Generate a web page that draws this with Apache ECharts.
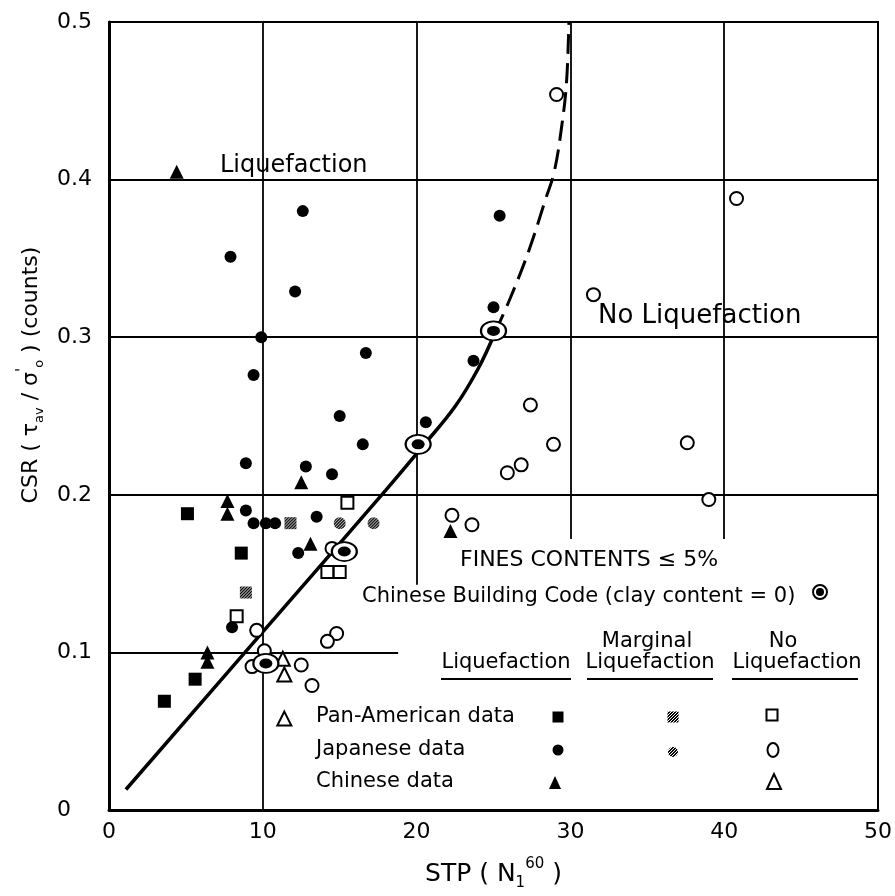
<!DOCTYPE html>
<html lang="en">
<head>
    <meta charset="utf-8">
    <title>CSR vs STP</title>
    <script src="https://cdn.jsdelivr.net/npm/echarts@6/dist/echarts.min.js"></script>
    <style>
        html, body { margin: 0; padding: 0; background: #fff; }
        #chart { width: 895px; height: 896px; }
    </style>
</head>
<body>
<div id="chart"></div>
<script>
    // ---- data: [STP, CSR] ----
    // Pan-American data
    let panLiq = [[5.1, 0.188], [8.6, 0.163], [5.6, 0.083], [3.6, 0.069]];
    let panMarginal = [[11.8, 0.182], [8.9, 0.138]];
    let panNoLiq = [[15.5, 0.195], [14.2, 0.151], [15.0, 0.151], [8.3, 0.123]];

    // Japanese data
    let japLiq = [
        [9.9, 0.300], [16.7, 0.290], [9.4, 0.276], [15.0, 0.250], [16.5, 0.232],
        [8.9, 0.220], [12.8, 0.218], [14.5, 0.213], [8.9, 0.190], [9.4, 0.182],
        [10.2, 0.182], [10.8, 0.182], [13.5, 0.186], [12.3, 0.163], [8.0, 0.116],
        [7.9, 0.351], [12.1, 0.329], [12.6, 0.380], [25.4, 0.377], [25.0, 0.319],
        [23.7, 0.285], [20.6, 0.246]
    ];
    let japMarginal = [[15.0, 0.182], [17.2, 0.182]];
    let japNoLiq = [
        [29.1, 0.454], [40.8, 0.388], [31.5, 0.327], [27.4, 0.257], [28.9, 0.232],
        [37.6, 0.233], [26.8, 0.219], [25.9, 0.214], [39.0, 0.197], [22.3, 0.187],
        [23.6, 0.181], [14.5, 0.166], [9.6, 0.114], [14.8, 0.112], [14.2, 0.107],
        [10.1, 0.101], [9.3, 0.091], [12.5, 0.092], [13.2, 0.079]
    ];

    // Chinese data
    let chnLiq = [[4.4, 0.405], [12.5, 0.208], [7.7, 0.196], [7.7, 0.188], [13.1, 0.169],
        [6.4, 0.100], [6.4, 0.094], [22.2, 0.177]];
    let chnNoLiq = [[11.3, 0.096], [11.4, 0.086], [11.4, 0.058]];

    // Chinese Building Code (clay content = 0)
    let codePts = [[10.2, 0.093], [15.3, 0.164], [20.1, 0.232], [25.0, 0.304]];

    // boundary curve
    let curveSolid = [[1.1, 0.013], [10, 0.113], [18, 0.203], [20.5, 0.232], [22.5, 0.256],
        [24, 0.280], [25.1, 0.303]];
    let curveDashed = [[25.1, 0.303], [26.1, 0.325], [27.3, 0.355], [28.4, 0.388],
        [28.95, 0.405], [29.45, 0.435], [29.75, 0.462], [29.9, 0.5]];

    // partial grid lines of the figure
    let gridV = [[10, 0, 0.5], [20, 0.143, 0.5], [30, 0.172, 0.5], [40, 0.172, 0.5]];
    let gridH = [[0.1, 0, 18.8], [0.2, 0, 50], [0.3, 0, 50], [0.4, 0, 50]];

    let xTicks = [0, 10, 20, 30, 40, 50];
    let yTicks = [0, 0.1, 0.2, 0.3, 0.4, 0.5];

    const FONT = 'DejaVu Sans';
    const MS = 12; // marginal symbol size

    // hatch fill for "marginal liquefaction"
    function makeHatch() {
        let c = document.createElement('canvas');
        c.width = 3;
        c.height = 3;
        let g = c.getContext('2d');
        g.fillStyle = '#000';
        g.fillRect(0, 0, 3, 3);
        g.fillStyle = '#fff';
        for (let i = 0; i < 3; i++) {
            g.fillRect(i, 2 - i, 1, 1);
        }
        return c;
    }
    let hatchCanvas = makeHatch();
    let hatch = { image: hatchCanvas, repeat: 'repeat' };
    // symbols are drawn from a unit path scaled by size/2, so shrink the pattern back
    let hatchSym = { image: hatchCanvas, repeat: 'repeat', scaleX: 2 / MS, scaleY: 2 / MS };

    let segs = [];
    gridV.forEach(function (v) { segs.push({ coords: [[v[0], v[1]], [v[0], v[2]]] }); });
    gridH.forEach(function (h) { segs.push({ coords: [[h[1], h[0]], [h[2], h[0]]] }); });

    function scatter(name, data, symbol, size, style) {
        style.opacity = 1;
        return {
            name: name, type: 'scatter', data: data, symbol: symbol, symbolSize: size,
            itemStyle: style, z: 5, emphasis: { disabled: true }
        };
    }

    let txt = function (s, x, y, size, align) {
        return {
            type: 'text', x: x, y: y, z: 20,
            style: {
                text: s, fill: '#000', fontSize: size, fontFamily: FONT,
                align: align || 'left', textAlign: align || 'left',
                verticalAlign: 'middle', textVerticalAlign: 'middle'
            }
        };
    };
    let hline = function (x1, x2, y) {
        return { type: 'line', z: 20, shape: { x1: x1, y1: y, x2: x2, y2: y }, style: { stroke: '#000', lineWidth: 2 } };
    };

    let chart = echarts.init(document.getElementById('chart'));
    let option = {
        animation: false,
        backgroundColor: '#fff',
        grid: { left: 109, right: 6, top: 22, bottom: 81, show: true, borderColor: '#000', borderWidth: 2 },
        xAxis: {
            type: 'value', min: xTicks[0], max: xTicks[xTicks.length - 1], interval: 10,
            axisLine: { show: true, onZero: false, lineStyle: { color: '#000', width: 3 } },
            axisTick: { show: false },
            splitLine: { show: false },
            axisLabel: { color: '#000', fontFamily: FONT, fontSize: 22, margin: 11 },
            name: 'STP ( N{sub|1}{sup|60} )',
            nameLocation: 'middle',
            nameGap: 47,
            nameTextStyle: {
                color: '#000', fontFamily: FONT, fontSize: 25, lineHeight: 34,
                rich: {
                    sub: { fontFamily: FONT, fontSize: 15, lineHeight: 15, verticalAlign: 'bottom', color: '#000' },
                    sup: { fontFamily: FONT, fontSize: 15, lineHeight: 15, verticalAlign: 'top', color: '#000' }
                }
            }
        },
        yAxis: {
            type: 'value', min: yTicks[0], max: yTicks[yTicks.length - 1], interval: 0.1,
            axisLine: { show: true, onZero: false, lineStyle: { color: '#000', width: 3 } },
            axisTick: { show: false },
            splitLine: { show: false },
            axisLabel: {
                color: '#000', fontFamily: FONT, fontSize: 22, margin: 52, align: 'left',
                formatter: function (v) { return v === 0 ? '0' : v.toFixed(1); }
            },
            name: 'CSR ( τ{sub|av} / σ{sup|\'}{sub|o} ) (counts)',
            nameLocation: 'middle',
            nameGap: 59,
            nameTextStyle: {
                color: '#000', fontFamily: FONT, fontSize: 22, lineHeight: 30,
                padding: [0, 0, 0, 82],
                rich: {
                    sub: { fontFamily: FONT, fontSize: 13, lineHeight: 13, verticalAlign: 'bottom', color: '#000' },
                    sup: { fontFamily: FONT, fontSize: 15, lineHeight: 15, verticalAlign: 'top', color: '#000' }
                }
            }
        },
        series: [
            {
                type: 'lines', coordinateSystem: 'cartesian2d', data: segs, silent: true, z: 1,
                lineStyle: { color: '#000', width: 1.8, opacity: 1 }
            },
            {
                type: 'line', data: curveSolid, smooth: 0.4, showSymbol: false, z: 2,
                lineStyle: { color: '#000', width: 3.5 }
            },
            {
                type: 'line', data: curveDashed, smooth: 0.4, showSymbol: false, z: 2,
                lineStyle: { color: '#000', width: 3, type: [20, 9] }
            },
            scatter('Pan-American liq', panLiq, 'rect', 13, { color: '#000' }),
            scatter('Pan-American marginal', panMarginal, 'rect', MS, { color: hatchSym }),
            scatter('Pan-American no liq', panNoLiq, 'emptyRect', 12, { color: '#000', borderWidth: 2 }),
            scatter('Japanese liq', japLiq, 'circle', 12, { color: '#000' }),
            scatter('Japanese marginal', japMarginal, 'circle', MS, { color: hatchSym }),
            scatter('Japanese no liq', japNoLiq, 'emptyCircle', 13, { color: '#000', borderWidth: 2 }),
            scatter('Chinese liq', chnLiq, 'triangle', 14, { color: '#000' }),
            scatter('Chinese no liq', chnNoLiq, 'emptyTriangle', 14, { color: '#000', borderWidth: 2 }),
            scatter('Code ring', codePts, 'emptyCircle', [25, 19], { color: '#000', borderWidth: 2 }),
            scatter('Code dot', codePts, 'circle', [13, 10], { color: '#000' })
        ],
        graphic: [
            txt('Liquefaction', 220, 166, 24),
            txt('No Liquefaction', 598, 316, 26),
            txt('FINES CONTENTS ≤ 5%', 460, 560, 22),
            txt('Chinese Building Code (clay content = 0)', 362, 597, 21),
            { type: 'circle', z: 20, shape: { cx: 820, cy: 592, r: 7 }, style: { fill: '#fff', stroke: '#000', lineWidth: 2 } },
            { type: 'circle', z: 21, shape: { cx: 820, cy: 592, r: 4 }, style: { fill: '#000' } },
            txt('Liquefaction', 506, 663, 21, 'center'),
            txt('Marginal', 647, 642, 21, 'center'),
            txt('Liquefaction', 650, 663, 21, 'center'),
            txt('No', 783, 642, 21, 'center'),
            txt('Liquefaction', 797, 663, 21, 'center'),
            hline(441, 571, 679),
            hline(587, 713, 679),
            hline(732, 858, 679),
            txt('Pan-American data', 316, 717, 21),
            txt('Japanese data', 316, 750, 21),
            txt('Chinese data', 316, 782, 21),
            { type: 'rect', z: 20, shape: { x: 552.5, y: 711.5, width: 11, height: 11 }, style: { fill: '#000' } },
            { type: 'rect', z: 20, shape: { x: 667.5, y: 711.5, width: 11, height: 11 }, style: { fill: hatch } },
            { type: 'rect', z: 20, shape: { x: 766.5, y: 709.5, width: 11, height: 11 }, style: { fill: '#fff', stroke: '#000', lineWidth: 2 } },
            { type: 'circle', z: 20, shape: { cx: 558, cy: 750, r: 5.5 }, style: { fill: '#000' } },
            { type: 'circle', z: 20, shape: { cx: 673, cy: 752, r: 5 }, style: { fill: hatch } },
            { type: 'ellipse', z: 20, shape: { cx: 773, cy: 750, rx: 5.5, ry: 7 }, style: { fill: '#fff', stroke: '#000', lineWidth: 2 } },
            { type: 'polygon', z: 20, shape: { points: [[555, 776], [549, 789], [561, 789]] }, style: { fill: '#000' } },
            { type: 'polygon', z: 20, shape: { points: [[774, 774], [767, 789], [781, 789]] }, style: { fill: '#fff', stroke: '#000', lineWidth: 2 } }
        ]
    };
    chart.setOption(option);

    window.onresize = function () {
        chart.resize();
    };
</script>
</body>
</html>
